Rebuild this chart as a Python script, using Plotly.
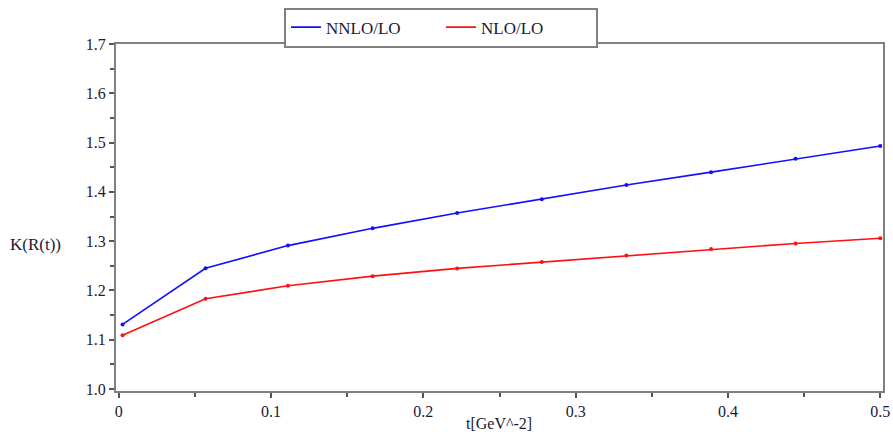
import plotly.graph_objects as go

t_values = [0.0025, 0.057, 0.1111, 0.1667, 0.2222, 0.2778, 0.3333, 0.3889, 0.4444, 0.5]
nnlo_lo = [1.131, 1.245, 1.291, 1.326, 1.357, 1.385, 1.414, 1.440, 1.467, 1.493]
nlo_lo = [1.109, 1.183, 1.2095, 1.229, 1.2447, 1.2576, 1.271, 1.284, 1.2954, 1.306]
x_ticks = [0, 0.1, 0.2, 0.3, 0.4, 0.5]
x_tick_labels = ["0", "0.1", "0.2", "0.3", "0.4", "0.5"]
y_ticks = [1.0, 1.1, 1.2, 1.3, 1.4, 1.5, 1.6, 1.7]
y_tick_labels = ["1.0", "1.1", "1.2", "1.3", "1.4", "1.5", "1.6", "1.7"]

serif = "Liberation Serif, Times New Roman, serif"
txt = "#1a1a33"
blue = "#1010ff"
red = "#ff1010"

fig = go.Figure()
for name, vals, col in [("NNLO/LO", nnlo_lo, blue), ("NLO/LO", nlo_lo, red)]:
    fig.add_trace(go.Scatter(x=t_values, y=vals, name=name, mode="lines",
                             line=dict(color=col, width=1.6), showlegend=True))
    fig.add_trace(go.Scatter(x=t_values, y=vals, name=name, mode="markers",
                             marker=dict(color=col, size=4), showlegend=False))

axis_common = dict(showline=True, linecolor="#808080", linewidth=2, mirror=True,
                   showgrid=False, zeroline=False, ticks="outside", ticklen=5,
                   tickcolor="#555555", tickwidth=1.5, automargin=False,
                   tickfont=dict(family=serif, size=16, color=txt))

fig.update_xaxes(range=[-0.0018, 0.5018], tickvals=x_ticks, ticktext=x_tick_labels,
                 minor=dict(ticks="outside", ticklen=4, tickcolor="#555555",
                            tickvals=[0.05, 0.15, 0.25, 0.35, 0.45]),
                 **axis_common)
fig.update_yaxes(range=[0.996, 1.7], tickvals=y_ticks, ticktext=y_tick_labels,
                 minor=dict(ticks="outside", ticklen=4, tickcolor="#555555",
                            tickvals=[1.05, 1.15, 1.25, 1.35, 1.45, 1.55, 1.65]),
                 **axis_common)

fig.update_layout(
    width=893, height=434,
    margin=dict(l=116, r=10, t=44, b=43, autoexpand=False),
    plot_bgcolor="white", paper_bgcolor="white",
    showlegend=True,
    legend=dict(orientation="h", x=0.219, xanchor="left", y=1.105, yanchor="top",
                bordercolor="#808080", borderwidth=2,
                font=dict(family=serif, size=17, color=txt),
                entrywidth=110, entrywidthmode="pixels",
                tracegroupgap=0),
    annotations=[
        dict(text="K(R(t))", x=0, xref="paper", xanchor="left", xshift=-108,
             y=1.293, yref="y", showarrow=False,
             font=dict(family=serif, size=17, color=txt)),
        dict(text="t[GeV^-2]", x=0.2495, xref="x", xanchor="center",
             y=-0.095, yref="paper", yanchor="middle", showarrow=False,
             font=dict(family=serif, size=16, color=txt)),
    ],
)

fig.write_html("out.html", config={"displayModeBar": False},
               post_script="document.body.style.margin='0';document.body.style.overflow='hidden';")
